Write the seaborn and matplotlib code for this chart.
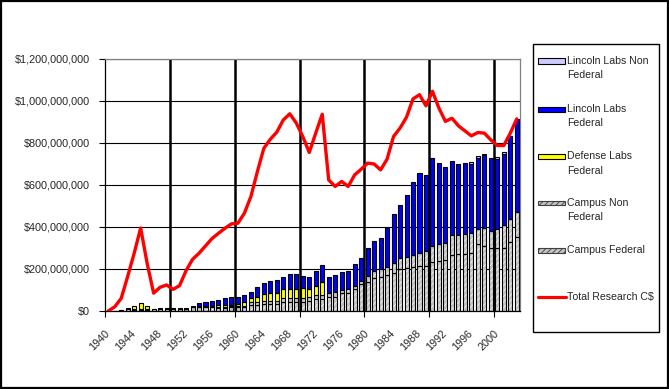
import numpy as np
import matplotlib
matplotlib.use("Agg")
import matplotlib.pyplot as plt
import matplotlib.patches as mpatches
import matplotlib.lines as mlines
from matplotlib.ticker import FuncFormatter
import seaborn as sns

# --- data (millions of dollars) ---
years = list(range(1940, 2004))

campus_federal = [
    0, 1, 3, 11, 6, 6, 7, 8, 9, 9,
    9, 9, 11, 17, 17, 17, 17, 15, 15, 17,
    17, 18, 28, 28, 34, 34, 35, 44, 44, 44,
    44, 49, 58, 58, 68, 68, 84, 87, 103, 127,
    138, 156, 163, 171, 179, 199, 203, 208, 216, 216,
    235, 238, 241, 267, 271, 271, 274, 319, 311, 298,
    301, 302, 330, 354]

campus_non_federal = [
    0, 0, 2, 5, 3, 3, 3, 3, 4, 4,
    4, 4, 5, 7, 7, 7, 7, 6, 6, 7,
    7, 7, 13, 13, 14, 14, 12, 16, 16, 16,
    16, 16, 16, 16, 19, 24, 16, 16, 16, 16,
    29, 34, 35, 37, 48, 52, 56, 59, 58, 70,
    76, 79, 84, 95, 91, 94, 99, 71, 82, 83,
    89, 107, 108, 119]

defense_labs_federal = [
    0, 0, 0, 0, 15, 31, 14, 0, 0, 0,
    0, 0, 0, 0, 0, 0, 0, 6, 8, 6,
    8, 16, 19, 27, 31, 36, 40, 43, 46, 46,
    51, 38, 45, 63, 0, 0, 0, 0, 0, 0,
    0, 0, 0, 0, 0, 0, 0, 0, 0, 0,
    0, 0, 0, 0, 0, 0, 0, 0, 0, 0,
    0, 0, 0, 0]

lincoln_federal = [
    0, 0, 0, 0, 0, 0, 0, 0, 0, 0,
    0, 0, 0, 0, 13, 17, 24, 25, 31, 35,
    33, 35, 29, 45, 53, 59, 61, 60, 69, 69,
    57, 60, 71, 82, 76, 79, 84, 87, 105, 108,
    131, 143, 148, 189, 235, 254, 293, 348, 383, 361,
    416, 386, 359, 352, 338, 338, 327, 338, 350, 346,
    332, 338, 395, 439]

lincoln_non_federal = [0] * 56 + [8, 10, 7, 0, 10, 8, 0, 0]

total_research_cd = [
    0, 20, 60, 165, 275, 395, 227, 85, 113, 124,
    103, 121, 192, 246, 275, 310, 345, 370, 394, 415,
    418, 466, 545, 664, 775, 818, 852, 910, 939, 895,
    831, 755, 847, 937, 624, 593, 617, 593, 648, 675,
    704, 700, 672, 723, 831, 871, 923, 1010, 1030, 977,
    1046, 966, 903, 918, 882, 858, 834, 850, 847, 815,
    788, 788, 847, 915]

series_names = ["Lincoln Labs Non\nFederal", "Lincoln Labs\nFederal",
                "Defense Labs\nFederal", "Campus Non\nFederal", "Campus Federal"]

# --- style ---
sns.set_style("white")
plt.rcParams['font.family'] = ['Liberation Sans', 'DejaVu Sans']
plt.rcParams['hatch.linewidth'] = 0.6

GREY_FACE = "#c4c4c4"
GREY_HATCH = "#f4f4f4"
YELLOW = "#ffff00"
BLUE = "#0000ff"
LAVENDER = "#ccccff"
FS = 7.8

fig = plt.figure(figsize=(6.69, 3.89), dpi=100)
ax = fig.add_axes([105 / 669, 1 - 311 / 389, 415 / 669, 252 / 389])

pos = np.arange(len(years))
scale = 1e6
cf = np.array(campus_federal) * scale
cnf = np.array(campus_non_federal) * scale
dlf = np.array(defense_labs_federal) * scale
llf = np.array(lincoln_federal) * scale
llnf = np.array(lincoln_non_federal) * scale

bw = 0.62
layers = [
    (cf, np.zeros_like(cf), GREY_FACE, True),
    (cnf, cf, GREY_FACE, True),
    (dlf, cf + cnf, YELLOW, False),
    (llf, cf + cnf + dlf, BLUE, False),
    (llnf, cf + cnf + dlf + llf, LAVENDER, False),
]
for vals, bottom, col, hatched in layers:
    mask = vals > 0
    if hatched:
        ax.bar(pos[mask], vals[mask], bottom=bottom[mask], width=bw,
               color=col, hatch="//////", edgecolor=GREY_HATCH, linewidth=0, zorder=2)
        ax.bar(pos[mask], vals[mask], bottom=bottom[mask], width=bw,
               fill=False, edgecolor="black", linewidth=0.8, zorder=2.1)
    else:
        ax.bar(pos[mask], vals[mask], bottom=bottom[mask], width=bw,
               color=col, edgecolor="black", linewidth=0.8, zorder=2.1)

sns.lineplot(x=pos, y=np.array(total_research_cd) * scale, color="#ff0000",
             linewidth=2.4, ax=ax, zorder=3, legend=False)

# --- axes ---
ax.set_xlim(-0.5, len(years) - 0.5)
ax.set_ylim(0, 1.2e9)
ax.set_yticks(np.arange(0, 1.2e9 + 1, 2e8))
ax.yaxis.set_major_formatter(FuncFormatter(lambda v, p: "${:,.0f}".format(v)))
ax.grid(axis="y", color="black", linewidth=0.8, zorder=0)
for b in np.arange(9.5, len(years), 10):
    ax.axvline(b, color="black", linewidth=1.8, zorder=1)

ax.set_xticks(np.arange(-0.5, len(years), 10))
ax.set_xticklabels([])
ax.set_xticks(pos[::4], minor=True)
ax.set_xticklabels([str(y) for y in years[::4]], minor=True, rotation=45,
                   ha="right", va="center", rotation_mode="anchor", fontsize=FS)
ax.tick_params(axis="x", which="minor", length=0, pad=15)
ax.tick_params(axis="x", which="major", direction="out", length=4, width=0.8,
               color="black", bottom=True)
ax.tick_params(axis="y", direction="out", length=4, width=0.8, color="black",
               left=True, labelsize=FS, pad=7)
ax.set_xlabel("")
ax.set_ylabel("")
for side in ["left", "bottom"]:
    ax.spines[side].set_color("black")
    ax.spines[side].set_linewidth(0.9)
for side in ["top", "right"]:
    ax.spines[side].set_color("#808080")
    ax.spines[side].set_linewidth(0.9)
ax.spines["top"].set_zorder(4)

# --- legend box drawn by hand ---
W, H = 669.0, 389.0
def fx(x):
    return x / W
def fy(y):
    return 1 - y / H

fig.patches.append(mpatches.Rectangle((fx(533), fy(332)), fx(659) - fx(533), fy(44) - fy(332),
                                      transform=fig.transFigure, fill=False,
                                      edgecolor="black", linewidth=1.0))
entries = [
    (series_names[0], LAVENDER, False, 61),
    (series_names[1], BLUE, False, 109),
    (series_names[2], YELLOW, False, 156),
    (series_names[3], GREY_FACE, True, 203),
    (series_names[4], GREY_FACE, True, 250),
]
for label, col, hatched, yc in entries:
    rect = mpatches.Rectangle((fx(538), fy(yc + 2.5)), fx(565) - fx(538), fy(yc - 2.5) - fy(yc + 2.5),
                              transform=fig.transFigure, facecolor=col,
                              edgecolor="#404040" if hatched else "black",
                              hatch="//////" if hatched else None, linewidth=0.8)
    fig.patches.append(rect)
    lines = label.split("\n")
    for k, t in enumerate(lines):
        fig.text(fx(567), fy(yc + k * 14.5), t, ha="left", va="center", fontsize=FS - 0.2)

fig.lines.append(mlines.Line2D([fx(538), fx(566)], [fy(297), fy(297)],
                               transform=fig.transFigure, color="#ff0000", linewidth=2.3))
fig.text(fx(567), fy(297), "Total Research C$", ha="left", va="center", fontsize=FS - 0.2)

# outer frame
fig.patches.append(mpatches.Rectangle((0.001, 0.002), 0.997, 0.996, transform=fig.transFigure,
                                      fill=False, edgecolor="black", linewidth=1.6))

fig.savefig("out.png", dpi=100)
